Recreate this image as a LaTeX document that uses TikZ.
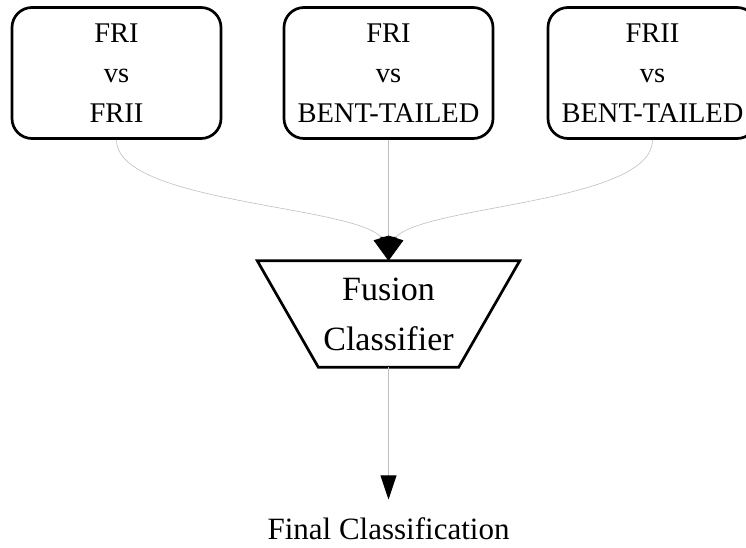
\documentclass[tikz,border=0pt]{standalone}
\usepackage{fontspec}
\setmainfont{Liberation Serif}
\usetikzlibrary{arrows.meta}

\tikzset{
  vsbox/.style={draw,line width=2.7pt,rounded corners=20pt,minimum width=209pt,minimum height=131pt,inner sep=0pt,align=center,font=\fontsize{28.5}{40}\selectfont},
  fusion/.style={minimum width=262pt,minimum height=106pt,inner sep=0pt,align=center,font=\fontsize{34}{50}\selectfont},
  edge/.style={draw=black!25,line width=0.6pt,-{Triangle[length=24pt,width=16pt,color=black]}}
}

\begin{document}
\begin{tikzpicture}[x=1pt,y=-1pt]
\useasboundingbox (0,0) rectangle (746,547);
\node[vsbox] (b1) at (116.5,73) {FRI\\vs\\FRII};
\node[vsbox] (b2) at (388.5,73) {FRI\\vs\\BENT-TAILED};
\node[vsbox] (b3) at (652.5,73) {FRII\\vs\\BENT-TAILED};
\node[fusion] (fc) at (388.5,314) {Fusion\\Classifier};
\draw[line width=2.7pt] (fc.north west) -- (fc.north east) -- ([xshift=-61pt]fc.south east) -- ([xshift=61pt]fc.south west) -- cycle;
\node[inner xsep=0pt,inner ysep=17.5pt,anchor=base,font=\fontsize{31}{37}\selectfont] (final) at (388.5,539) {Final Classification};
\draw[edge] (b1.south) .. controls +(0,63) and +(-30,-32) .. (381,237) -- (fc.north);
\draw[edge] (b2.south) -- (fc.north);
\draw[edge] (b3.south) .. controls +(0,63) and +(30,-32) .. (396,237) -- (fc.north);
\draw[edge] (fc.south) -- (final.north);
\end{tikzpicture}
\end{document}
